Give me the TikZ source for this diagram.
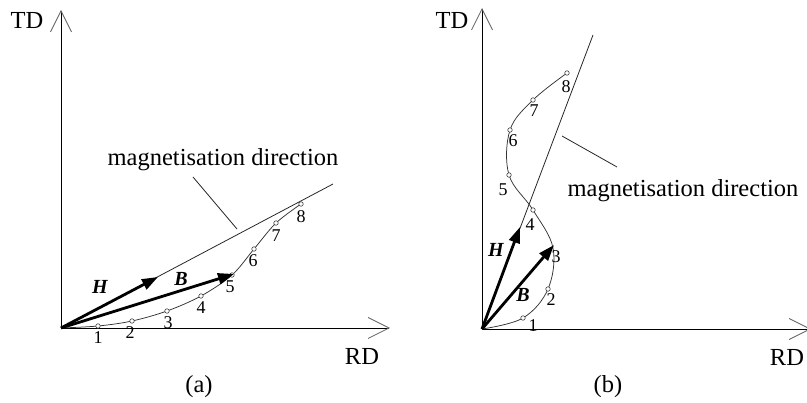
\documentclass[tikz,border=0pt]{standalone}
\usepackage{fontspec}
\setmainfont{Liberation Serif}
\usetikzlibrary{arrows.meta}
\begin{document}
\begin{tikzpicture}[x=1pt,y=-1pt,
  axis/.style={line width=0.9pt,-{Straight Barb[length=21pt,width=21pt,color=black!60,line width=0.8pt]}},
  vec/.style={line width=2.8pt,-{Triangle[length=16pt,width=11pt]}},
  curveline/.style={line width=0.75pt,black!80},
  magline/.style={line width=0.8pt,black!85},
  pt/.style={circle,draw=black!75,line width=0.6pt,inner sep=0pt,minimum size=4.5pt,fill=white},
  bigtext/.style={font=\fontsize{24.5}{28}\selectfont,inner sep=0pt,anchor=base},
  numtext/.style={font=\fontsize{18}{21}\selectfont,inner sep=0pt},
  vectext/.style={font=\fontsize{20}{23}\selectfont\bfseries\itshape,inner sep=0pt}]
\useasboundingbox (0,0) rectangle (807,403);

% ===== panel (a) =====
\coordinate (Oa) at (61,328);
\coordinate (Xa) at (390,328);
\coordinate (Ya) at (61,10);
\coordinate (Ma) at (333,184);
\coordinate (Ha) at (158,277);
\coordinate (Ba) at (234,274);
\coordinate (a1) at (98,326);
\coordinate (a2) at (132,321);
\coordinate (a3) at (167,311);
\coordinate (a4) at (201,296);
\coordinate (a5) at (232,275);
\coordinate (a6) at (254,249);
\coordinate (a7) at (276,223);
\coordinate (a8) at (301,204);

\draw[axis] (Oa) -- (Xa);
\draw[axis] (Oa) -- (Ya);
\draw[magline] (Oa) -- (Ma);
\draw[curveline] plot[smooth,tension=0.55] coordinates {(Oa) (a1) (a2) (a3) (a4) (a5) (a6) (a7) (a8)};
\foreach \i in {1,...,8} {\node[pt] (ca\i) at (a\i) {};}

\node[bigtext] (tda) at (27,29) {TD};
\node[bigtext] (rda) at (362,365) {RD};
\node[bigtext] (capa) at (199,393) {(a)};
\node[bigtext] (mta) at (223,166) {magnetisation direction};
\coordinate (ma1) at (193,177);
\coordinate (ma2) at (237,229);
\draw[magline] (ma1) -- (ma2);

\node[numtext] (na1) at (98,338) {1};
\node[numtext] (na2) at (130,333) {2};
\node[numtext] (na3) at (168,323) {3};
\node[numtext] (na4) at (201,308) {4};
\node[numtext] (na5) at (230,287) {5};
\node[numtext] (na6) at (253,261) {6};
\node[numtext] (na7) at (276,236) {7};
\node[numtext] (na8) at (301,217) {8};

\draw[vec] (Oa) -- (Ha);
\draw[vec] (Oa) -- (Ba);
\node[vectext] (hla) at (100,287) {H};
\node[vectext] (bla) at (181,279) {B};

% ===== panel (b) =====
\coordinate (Ob) at (482,329);
\coordinate (Xb) at (811,329);
\coordinate (Yb) at (482,8);
\coordinate (Mb) at (593,35);
\coordinate (Hb) at (520,227);
\coordinate (Bb) at (554,245);
\coordinate (b1) at (523,318);
\coordinate (b2) at (548,289);
\coordinate (b3) at (553,248);
\coordinate (b4) at (533,210);
\coordinate (b5) at (509,175);
\coordinate (b6) at (510,130);
\coordinate (b7) at (533,100);
\coordinate (b8) at (567,73);

\draw[axis] (Ob) -- (Xb);
\draw[axis] (Ob) -- (Yb);
\draw[magline] (Ob) -- (Mb);
\draw[curveline] plot[smooth,tension=0.6] coordinates {(Ob) (b1) (b2) (b3) (b4) (b5) (b6) (b7) (b8)};
\foreach \i in {1,2,4,5,6,7,8} {\node[pt] (cb\i) at (b\i) {};}

\node[bigtext] (tdb) at (452,29) {TD};
\node[bigtext] (rdb) at (787,366) {RD};
\node[bigtext] (capb) at (608,393) {(b)};
\node[bigtext] (mtb) at (683,197) {magnetisation direction};
\coordinate (mb1) at (562,136);
\coordinate (mb2) at (617,167);
\draw[magline] (mb1) -- (mb2);

\node[numtext] (nb1) at (533,326) {1};
\node[numtext] (nb2) at (551,300) {2};
\node[numtext] (nb3) at (556,257) {3};
\node[numtext] (nb4) at (530,225) {4};
\node[numtext] (nb5) at (503,190) {5};
\node[numtext] (nb6) at (513,141) {6};
\node[numtext] (nb7) at (534,111) {7};
\node[numtext] (nb8) at (566,87) {8};

\draw[vec] (Ob) -- (Hb);
\draw[vec] (Ob) -- (Bb);
\node[vectext] (hlb) at (496,250) {H};
\node[vectext] (blb) at (523,295) {B};
\end{tikzpicture}
\end{document}
